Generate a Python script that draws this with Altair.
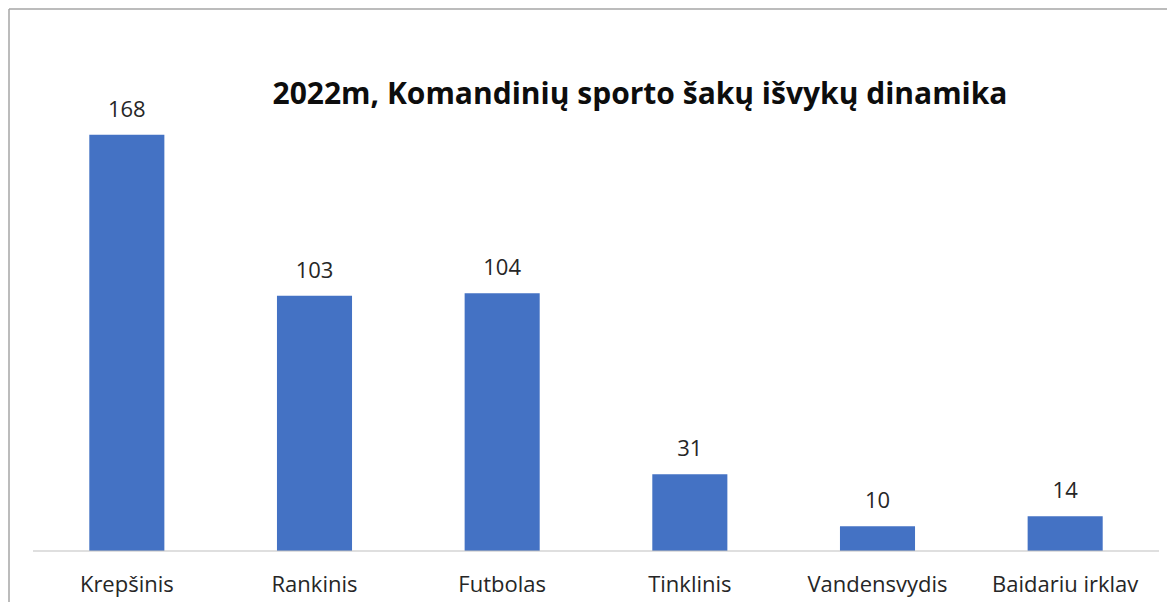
import altair as alt
import pandas as pd

categories = ["Krepšinis", "Rankinis", "Futbolas", "Tinklinis", "Vandensvydis", "Baidariu irklav"]
values = [168, 103, 104, 31, 10, 14]
title_text = "2022m, Komandinių sporto šakų išvykų dinamika"

df = pd.DataFrame({"sport": categories, "count": values})

W, H = 1126, 446
FONT = "Open Sans"

x_enc = alt.X(
    "sport:N",
    sort=categories,
    scale=alt.Scale(paddingInner=0.6, paddingOuter=0.3),
    axis=alt.Axis(
        title=None, labelAngle=0, ticks=False, domain=False,
        labelFont=FONT, labelFontSize=22, labelColor="#262626",
        labelPadding=23, grid=False,
    ),
)
y_enc = alt.Y("count:Q", scale=alt.Scale(domain=[0, 180]), axis=None)

base = alt.Chart(df)
one = pd.DataFrame({"a": [0]})

frame_left = alt.Chart(one).mark_rule(stroke="#a6a6a6", strokeWidth=1.5).encode(
    x=alt.value(-24), y=alt.value(-96), y2=alt.value(H + 200)
)
frame_top = alt.Chart(one).mark_rule(stroke="#a6a6a6", strokeWidth=1.5).encode(
    x=alt.value(-24), x2=alt.value(W + 200), y=alt.value(-96)
)
baseline = alt.Chart(one).mark_rule(stroke="#bfbfbf", strokeWidth=1.2).encode(
    x=alt.value(0), x2=alt.value(W), y=alt.value(H)
)

bars = base.mark_bar(color="#4472C4").encode(x=x_enc, y=y_enc)
labels = base.mark_text(
    font=FONT, fontSize=22, color="#262626", baseline="alphabetic", dy=-18
).encode(x=alt.X("sport:N", sort=categories), y=y_enc, text="count:Q")

title = alt.Chart(pd.DataFrame({"t": [title_text]})).mark_text(
    font=FONT, fontSize=30, fontWeight="bold", color="#0d0d0d", baseline="middle"
).encode(x=alt.value(607), y=alt.value(-10), text="t:N")

chart = alt.layer(frame_left, frame_top, bars, baseline, labels, title).properties(
    width=W, height=H,
    autosize=alt.AutoSizeParams(type="none"),
    padding={"left": 25, "top": 97, "right": 8, "bottom": 51},
    background="white",
).configure_view(stroke=None)

chart.save("out.html", embed_options={"renderer": "svg", "actions": False})
